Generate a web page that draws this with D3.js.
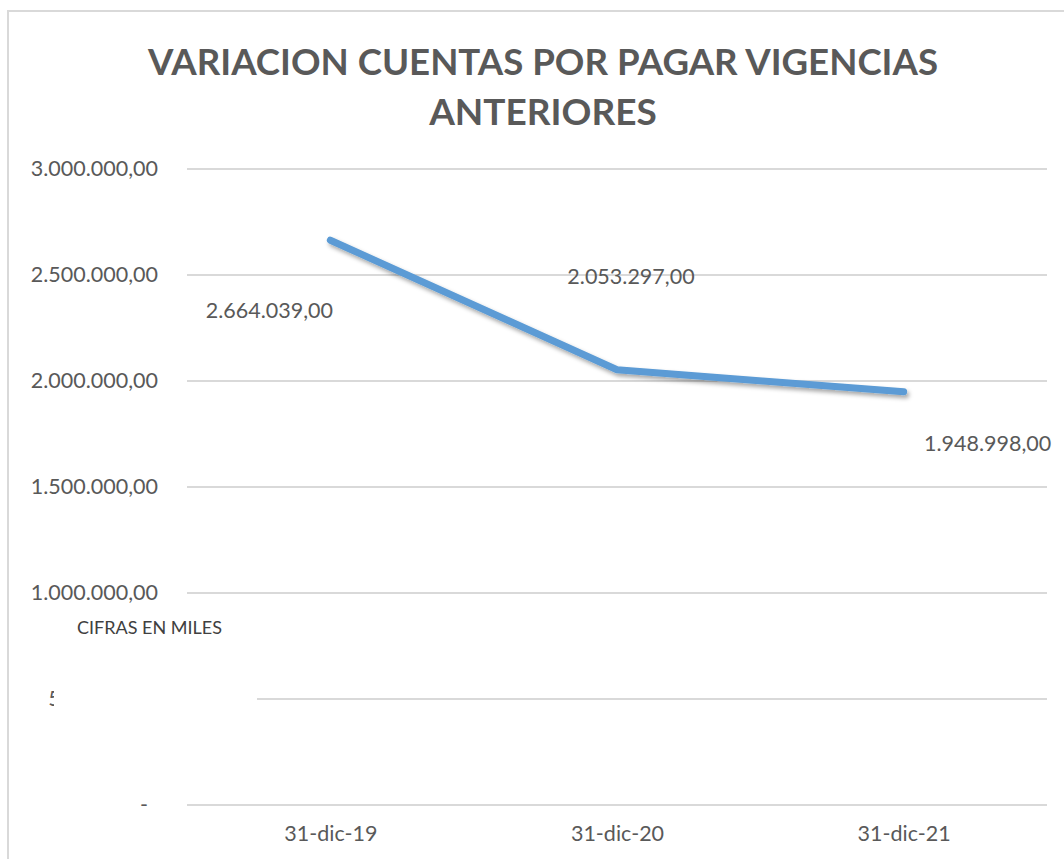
<!DOCTYPE html>
<html>
<head>
<meta charset="utf-8">
<script src="https://cdn.jsdelivr.net/npm/d3@7"></script>
<style>
  body { margin: 0; background: #fff; }
  .tick-text { font-family: Lato, "Open Sans", sans-serif; font-size: 21.5px; fill: #595959; }
</style>
</head>
<body>
<div class="chart"></div>
<script>
// Data
var categories = ["31-dic-19", "31-dic-20", "31-dic-21"];
var values = [2664039, 2053297, 1948998];
var yTicks = [0, 500000, 1000000, 1500000, 2000000, 2500000, 3000000];
var titleLines = ["VARIACION CUENTAS POR PAGAR VIGENCIAS", "ANTERIORES"];

// Step 0: set up the chart
var svgWidth = 1064;
var svgHeight = 859;

var plot = { left: 187, right: 1047, top: 169, bottom: 805 };

var svg = d3
  .select(".chart")
  .append("svg")
  .attr("width", svgWidth)
  .attr("height", svgHeight);

// drop shadow for the line
var defs = svg.append("defs");
defs
  .append("filter")
  .attr("id", "shadow")
  .attr("x", "-10%").attr("y", "-10%")
  .attr("width", "130%").attr("height", "140%")
  .append("feDropShadow")
  .attr("dx", 2)
  .attr("dy", 3)
  .attr("stdDeviation", 2)
  .attr("flood-color", "#000")
  .attr("flood-opacity", 0.35);

// chart area border
svg
  .append("rect")
  .attr("x", 8)
  .attr("y", 11)
  .attr("width", svgWidth)
  .attr("height", svgHeight)
  .attr("fill", "#fff")
  .attr("stroke", "#d9d9d9")
  .attr("stroke-width", 2);

// Title
svg
  .append("text")
  .attr("x", 543)
  .attr("y", 62)
  .attr("text-anchor", "middle")
  .style("font-family", "Lato, sans-serif")
  .style("font-weight", "bold")
  .style("font-size", "37px")
  .attr("fill", "#595959")
  .selectAll("tspan")
  .data(titleLines)
  .enter()
  .append("tspan")
  .attr("x", 543)
  .attr("dy", function(d, i) { return i === 0 ? "0.35em" : "50px"; })
  .attr("textLength", function(d, i) { return i === 0 ? 790 : null; })
  .attr("lengthAdjust", "spacingAndGlyphs")
  .text(function(d) { return d; });

// scales
var xScale = d3.scalePoint()
  .domain(categories)
  .range([plot.left, plot.right])
  .padding(0.5);

var yScale = d3.scaleLinear()
  .domain([0, 3000000])
  .range([plot.bottom, plot.top]);

var esFormat = d3.formatLocale({ decimal: ",", thousands: ".", grouping: [3], currency: ["$", ""] });
var fmt = esFormat.format(",.2f");

// gridlines
svg
  .append("g")
  .selectAll("line")
  .data(yTicks)
  .enter()
  .append("line")
  .attr("x1", plot.left)
  .attr("x2", plot.right)
  .attr("y1", function(d) { return yScale(d); })
  .attr("y2", function(d) { return yScale(d); })
  .attr("stroke", "#d9d9d9")
  .attr("stroke-width", 2);

// y axis
var leftAxis = d3.axisLeft(yScale)
  .tickValues(yTicks)
  .tickSize(0)
  .tickPadding(29)
  .tickFormat(function(d) { return d === 0 ? "-" : fmt(d); });

var yAxis = svg
  .append("g")
  .attr("transform", "translate(" + plot.left + ",0)")
  .call(leftAxis);
yAxis.select(".domain").remove();
yAxis.selectAll("text")
  .attr("class", "tick-text")
  .attr("x", function(d) { return d === 0 ? -39 : -29; });

// x axis
var bottomAxis = d3.axisBottom(xScale).tickSize(0).tickPadding(21);
var xAxis = svg
  .append("g")
  .attr("transform", "translate(0," + plot.bottom + ")")
  .call(bottomAxis);
xAxis.select(".domain").remove();
xAxis.selectAll("text").attr("class", "tick-text");

// the line
var line = d3.line()
  .x(function(d, i) { return xScale(categories[i]); })
  .y(function(d) { return yScale(d); });

svg
  .append("path")
  .datum(values)
  .attr("d", line)
  .attr("fill", "none")
  .attr("stroke", "#5b9bd5")
  .attr("stroke-width", 7)
  .attr("stroke-linecap", "round")
  .attr("stroke-linejoin", "round")
  .attr("filter", "url(#shadow)");

// data labels, nudged like in the original
var nudge = [[-61, 70], [14, -93], [84, 52]];
svg
  .append("g")
  .selectAll("text")
  .data(values)
  .enter()
  .append("text")
  .attr("class", "tick-text")
  .attr("text-anchor", "middle")
  .attr("x", function(d, i) { return xScale(categories[i]) + nudge[i][0]; })
  .attr("y", function(d, i) { return yScale(d) + nudge[i][1]; })
  .attr("dy", "0.35em")
  .text(function(d) { return fmt(d); });

// white text box that hides the 500.000 label
svg
  .append("rect")
  .attr("x", 54)
  .attr("y", 606)
  .attr("width", 203)
  .attr("height", 108)
  .attr("fill", "#fff");

svg
  .append("text")
  .attr("x", 77)
  .attr("y", 634)
  .style("font-family", "Lato, sans-serif")
  .style("font-size", "18px")
  .attr("fill", "#404040")
  .text("CIFRAS EN MILES");
</script>
</body>
</html>
